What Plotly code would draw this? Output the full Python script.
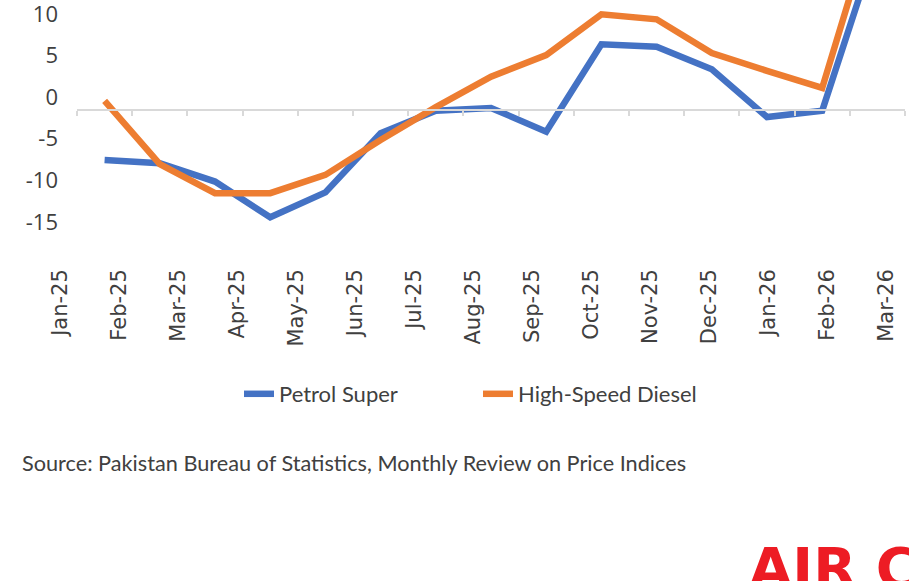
import plotly.graph_objects as go

months = ["Jan-25", "Feb-25", "Mar-25", "Apr-25", "May-25", "Jun-25", "Jul-25", "Aug-25",
          "Sep-25", "Oct-25", "Nov-25", "Dec-25", "Jan-26", "Feb-26", "Mar-26"]
petrol_super = [-6.0, -6.4, -8.6, -12.9, -9.9, -2.8, -0.1, 0.25, -2.6, 7.9, 7.6, 4.9, -0.85, -0.1, 20.2]
hs_diesel = [1.1, -6.5, -10.0, -10.0, -7.8, -3.6, 0.35, 4.0, 6.6, 11.5, 10.9, 6.85, 4.7, 2.65, 24.5]
y_ticks = [-15, -10, -5, 0, 5, 10]
y_tick_text = ["-15", "-10", "-5", "0", "5", "10"]
source_text = "Source: Pakistan Bureau of Statistics, Monthly Review on Price Indices"
logo_text = "AIR C"

W, H = 909, 581
PB = 262  # plot bottom pixel

fig = go.Figure()
fig.add_trace(go.Scatter(x=months, y=petrol_super, name="Petrol Super", mode="lines",
                         line=dict(color="#4472C4", width=6.5), hoverinfo="skip"))
fig.add_trace(go.Scatter(x=months, y=hs_diesel, name="High-Speed Diesel", mode="lines",
                         line=dict(color="#ED7D31", width=6.5), hoverinfo="skip"))
# helper traces that carry the label axes
fig.add_trace(go.Scatter(x=list(range(len(months))), y=[None] * len(months), xaxis="x2", yaxis="y",
                         mode="markers", showlegend=False, hoverinfo="skip"))
fig.add_trace(go.Scatter(x=months, y=[None] * len(months), xaxis="x", yaxis="y2",
                         mode="markers", showlegend=False, hoverinfo="skip"))

px_per_unit = 41.6 / 5
zero_px = 110
lab_zero_px = 97

fig.update_layout(
    width=W, height=H,
    margin=dict(l=0, r=0, t=0, b=H - PB, pad=0),
    paper_bgcolor="white", plot_bgcolor="rgba(0,0,0,0)",
    showlegend=True,
    legend=dict(orientation="h", x=239 / W, xanchor="left", y=(PB - 394) / PB, yanchor="middle",
                font=dict(family="Lato", size=22, color="#404040"), itemwidth=30,
                entrywidth=194, entrywidthmode="pixels",
                bgcolor="rgba(0,0,0,0)"),
    xaxis=dict(type="category", domain=[77 / W, 905 / W], range=[-0.5, len(months) - 0.5],
               anchor="free", position=(PB - zero_px) / PB,
               showline=True, linecolor="#d9d9d9", linewidth=1.5,
               ticks="outside", ticklen=5, tickcolor="#d9d9d9", tickwidth=1.5, tickson="boundaries",
               showticklabels=False, showgrid=False, zeroline=False, automargin=False),
    xaxis2=dict(domain=[0, 1], anchor="y", range=[-60 / 59, -60 / 59 + W / 59],
                tickmode="array", tickvals=list(range(len(months))), ticktext=months,
                tickangle=-90, ticks="", showline=False, showgrid=False, zeroline=False,
                tickfont=dict(family="DejaVu Sans", size=21, color="#404040"),
                ticklabelstandoff=2, ticklabeloverflow="allow", automargin=False),
    yaxis=dict(domain=[0, 1], anchor="x",
               range=[(zero_px - PB) / px_per_unit, zero_px / px_per_unit],
               showticklabels=False, showgrid=False, zeroline=False, showline=False, ticks="",
               automargin=False),
    yaxis2=dict(overlaying="y", anchor="x", side="left",
                range=[(lab_zero_px - PB) / px_per_unit, lab_zero_px / px_per_unit],
                tickmode="array", tickvals=y_ticks, ticktext=y_tick_text, ticks="",
                showgrid=False, zeroline=False, showline=False,
                tickfont=dict(family="Open Sans", size=22, color="#404040"),
                ticklabelstandoff=18, ticklabeloverflow="allow", automargin=False),
    annotations=[
        dict(text=source_text, xref="paper", yref="paper", x=20 / W, y=(PB - 463) / PB,
             xanchor="left", yanchor="middle", showarrow=False,
             font=dict(family="Lato", size=21.7, color="#404040")),
        dict(text="<b>" + logo_text + "</b>", xref="paper", yref="paper", x=747 / W, y=(PB - 533) / PB,
             xanchor="left", yanchor="top", showarrow=False,
             font=dict(family="DejaVu Sans", size=56, color="#ED1C24")),
    ],
)

fig.write_html("out.html", config={"displayModeBar": False},
               post_script="document.body.style.margin='0';document.body.style.overflow='hidden';")
